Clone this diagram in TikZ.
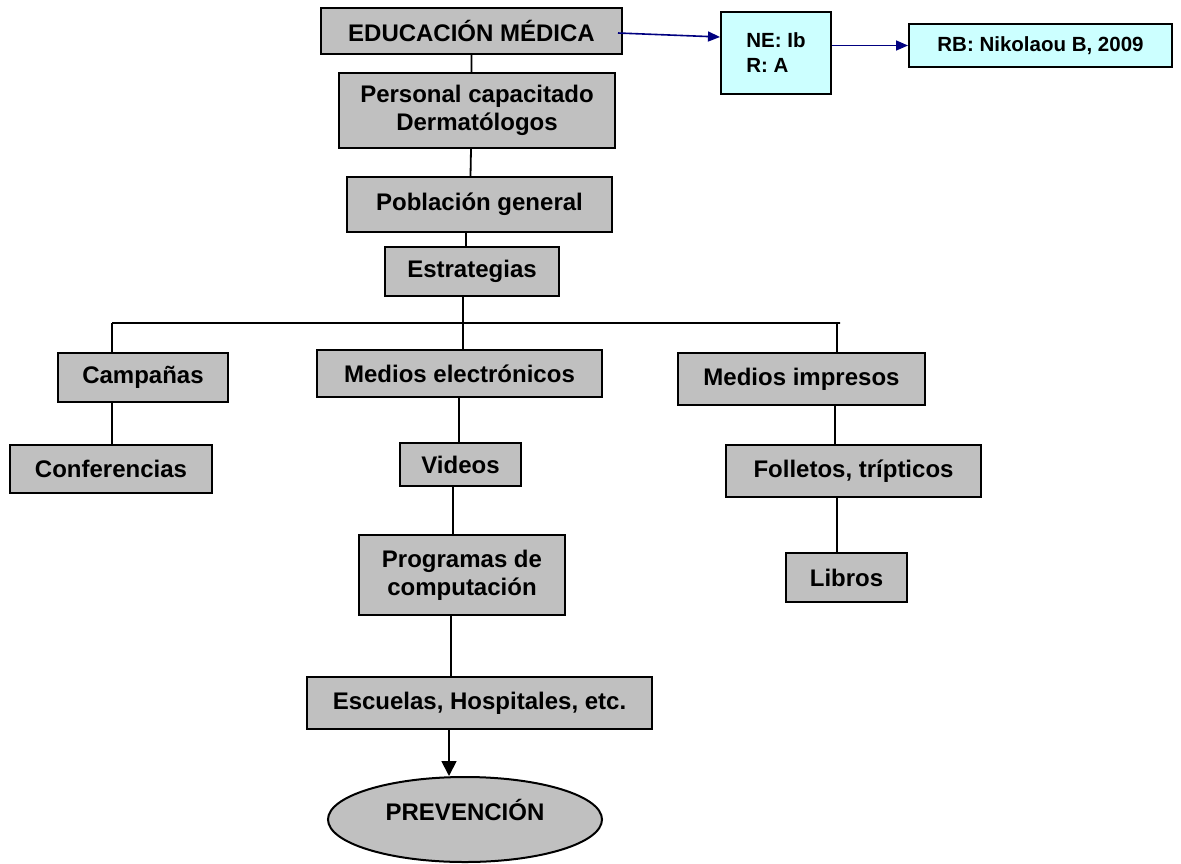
\documentclass[tikz,border=0pt]{standalone}
\usepackage{fontspec}
\setmainfont{Liberation Sans}
\usepackage{tikz}
\usetikzlibrary{shapes.geometric, arrows.meta}
\definecolor{boxgray}{HTML}{C0C0C0}
\definecolor{boxcyan}{HTML}{CCFFFF}
\definecolor{linknavy}{HTML}{000080}
\tikzset{
    x=1pt, y=-1pt, % one unit is one pixel of the sketch, y runs downwards
    box/.style={draw, line width=2pt, fill=boxgray, inner sep=0pt, align=center,
        font=\fontsize{24}{28}\selectfont\bfseries}, % the grey boxes
    refbox/.style={box, fill=boxcyan, font=\fontsize{20.5}{25}\selectfont\bfseries}, % the light blue boxes
    link/.style={draw=linknavy, line width=1.6pt, -{Triangle[length=12pt, width=10pt]}}, % blue arrows on the right
}

\begin{document}
\begin{tikzpicture}[line width=1.8pt]
    \useasboundingbox (0,0) rectangle (1181,863);

    % central column
    \node[box, minimum width=301pt, minimum height=46pt] (EM) at (471.5,31) {EDUCACIÓN MÉDICA};
    \node[box, minimum width=276pt, minimum height=75pt] (PC) at (477,110.5) {Personal capacitado\\Dermatólogos};
    \node[box, minimum width=265pt, minimum height=55pt] (PG) at (479.5,204.5) {Población general};
    \node[box, minimum width=174pt, minimum height=49pt] (ES) at (472,271.5) {Estrategias};

    % three branches
    \node[box, minimum width=170pt, minimum height=49pt] (CA) at (143,377.5) {Campañas};
    \node[box, minimum width=202pt, minimum height=48pt] (CO) at (111,469) {Conferencias};
    \node[box, minimum width=285pt, minimum height=47pt] (ME) at (459.5,373.5) {Medios electrónicos};
    \node[box, minimum width=121pt, minimum height=43pt] (VI) at (460.5,464.5) {Videos};
    \node[box, minimum width=206pt, minimum height=80pt] (PR) at (462,575) {Programas de\\computación};
    \node[box, minimum width=345pt, minimum height=52pt] (EH) at (479.5,703) {Escuelas, Hospitales, etc.};
    \node[box, ellipse, minimum width=274pt, minimum height=85pt, text depth=20pt] (PV) at (465,819.5) {PREVENCIÓN};
    \node[box, minimum width=247pt, minimum height=52pt] (MI) at (801.5,379) {Medios impresos};
    \node[box, minimum width=255pt, minimum height=52pt] (FT) at (853.5,471) {Folletos, trípticos};
    \node[box, minimum width=121pt, minimum height=49pt] (LI) at (846.5,577.5) {Libros};

    % evidence boxes
    \node[refbox, align=left, minimum width=110pt, minimum height=82pt] (NE) at (776,53) {NE: Ib\\R: A};
    \node[refbox, minimum width=263pt, minimum height=43pt] (RB) at (1040.5,45.5) {RB: Nikolaou B, 2009};

    \coordinate (L) at (112,323);
    \coordinate (R) at (840,323);

    \draw (EM.south) -- (EM.south |- PC.north)
          ([xshift=-6pt]PC.south) -- ([xshift=-9pt]PG.north)
          ([xshift=-13.5pt]PG.south) -- ([xshift=-6pt]ES.north)
          ([xshift=-9pt]ES.south) -- ([xshift=3.5pt]ME.north)
          (L) -- (R)
          (L) -- (L |- CA.north)
          (CA.south -| L) -- (L |- CO.north)
          ([xshift=-3pt]R) -- ([xshift=-3pt]R |- MI.north)
          ([xshift=-0.5pt]ME.south) -- ([xshift=-1.5pt]VI.north)
          ([xshift=-7.5pt]VI.south) -- ([xshift=-9pt]PR.north)
          ([xshift=-11pt]PR.south) -- ([xshift=-28.5pt]EH.north)
          ([xshift=33.5pt]MI.south) -- ([xshift=33.5pt]MI.south |- FT.north)
          ([xshift=-16.5pt]FT.south) -- ([xshift=-9.5pt]LI.north);
    \draw[-{Triangle[length=15pt, width=15pt]}] ([xshift=-30.5pt]EH.south) -- ([xshift=-30.5pt]EH.south |- PV.north);

    \draw[link] ([xshift=-5pt, yshift=-2pt]EM.east) -- ([yshift=16pt]NE.west);
    \draw[link] (NE.east |- RB.west) -- (RB.west);
\end{tikzpicture}
\end{document}
